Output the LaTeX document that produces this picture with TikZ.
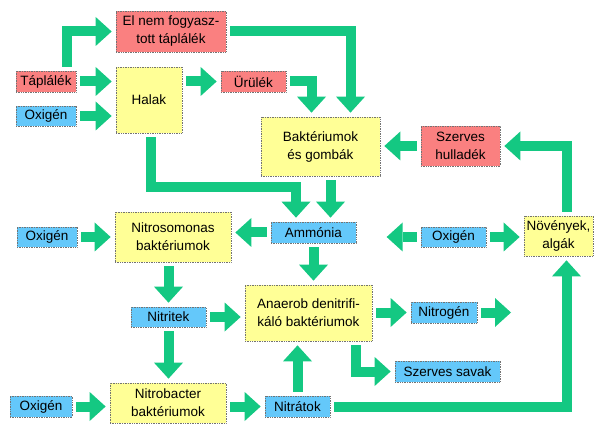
\documentclass[tikz,border=0pt]{standalone}
\usepackage{fontspec}
\setmainfont{Liberation Sans}
\usetikzlibrary{arrows.meta}
\definecolor{zold}{RGB}{20,200,130}
\definecolor{sarga}{RGB}{255,255,150}
\definecolor{piros}{RGB}{250,128,128}
\definecolor{kek}{RGB}{100,200,250}
\begin{document}
\begin{tikzpicture}[x=1pt,y=-1pt,font=\fontsize{13.5}{18}\selectfont,line join=miter,
  doboz/.style={draw=black!55,densely dotted,line width=0.7pt,inner sep=0pt,align=center},
  ybox/.style={doboz,fill=sarga},
  rbox/.style={doboz,fill=piros},
  bbox/.style={doboz,fill=kek},
  flow/.style={draw=zold,line width=10pt,-{Triangle[width=29pt,length=16pt,line width=0pt]},
    shorten <=4pt,shorten >=4pt}]
\useasboundingbox (0,0) rectangle (595,425);
% dobozok
\node[rbox,minimum width=110,minimum height=41] (elnem) at (171,31.5) {El nem fogyasz-\\tott táplálék};
\node[rbox,minimum width=60,minimum height=21] (taplalek) at (46,81.5) {Táplálék};
\node[bbox,minimum width=60,minimum height=20] (oxigen1) at (46,116) {Oxigén};
\node[ybox,minimum width=66,minimum height=66] (halak) at (149,100) {Halak};
\node[rbox,minimum width=65,minimum height=21] (urulek) at (253.5,81.5) {Ürülék};
\node[ybox,minimum width=119,minimum height=59] (bakt) at (320.5,146.5) {Baktériumok\\és gombák};
\node[rbox,minimum width=79,minimum height=40] (szhull) at (460.5,146) {Szerves\\hulladék};
\node[bbox,minimum width=85,minimum height=21] (ammonia) at (313.5,232.5) {Ammónia};
\node[bbox,minimum width=65,minimum height=20] (oxigen2) at (453.5,237) {Oxigén};
\node[ybox,minimum width=69,minimum height=40] (novenyek) at (558.5,236) {Növények,\\algák};
\node[ybox,minimum width=116,minimum height=50] (nitroso) at (173,237) {Nitrosomonas\\baktériumok};
\node[bbox,minimum width=60,minimum height=20] (oxigen3) at (47,237) {Oxigén};
\node[bbox,minimum width=75,minimum height=20] (nitritek) at (168.5,317) {Nitritek};
\node[ybox,minimum width=127,minimum height=56] (anaerob) at (308.5,313) {Anaerob denitrifi-\\káló baktériumok};
\node[bbox,minimum width=66,minimum height=21] (nitrogen) at (444,312.5) {Nitrogén};
\node[bbox,minimum width=105,minimum height=21] (szsavak) at (447.5,371.5) {Szerves savak};
\node[bbox,minimum width=65,minimum height=21] (nitratok) at (297.5,406.5) {Nitrátok};
\node[ybox,minimum width=116,minimum height=40] (nitrobac) at (168,403) {Nitrobacter\\baktériumok};
\node[bbox,minimum width=62,minimum height=21] (oxigen4) at (41,406.5) {Oxigén};
\coordinate (nout) at (515,312.5);
\coordinate (hsarok) at (296,187);
% nyilak
\draw[flow] ([xshift=21]taplalek.north) |- (elnem.west);
\draw[flow] (taplalek.east) -- (taplalek.east -| halak.west);
\draw[flow] (oxigen1.east) -- (oxigen1.east -| halak.west);
\draw[flow] (halak.east |- urulek.west) -- (urulek.west);
\draw[flow] (elnem.east) -| ([xshift=30]bakt.north);
\draw[flow] (urulek.east) -| ([xshift=-9]bakt.north);
\draw[flow] ([xshift=2]halak.south) |- (hsarok) -- (hsarok |- ammonia.north);
\draw[flow] ([xshift=10]bakt.south) -- ([xshift=10]bakt.south |- ammonia.north);
\draw[flow] (szhull.west) -- (szhull.west -| bakt.east);
\draw[flow] ([xshift=8]novenyek.north) |- (szhull.east);
\draw[flow] (ammonia.west) -- (ammonia.west -| nitroso.east);
\draw[flow] (oxigen2.west) -- ++(-38,0);
\draw[flow] (oxigen2.east) -- (oxigen2.east -| novenyek.west);
\draw[flow] (oxigen3.east) -- (oxigen3.east -| nitroso.west);
\draw[flow] (ammonia.south) -- (ammonia.south |- anaerob.north);
\draw[flow] (nitroso.south -| nitritek.north) -- (nitritek.north);
\draw[flow] (nitritek.east) -- (nitritek.east -| anaerob.west);
\draw[flow] (nitritek.south) -- (nitritek.south |- nitrobac.north);
\draw[flow] (anaerob.east |- nitrogen.west) -- (nitrogen.west);
\draw[flow] (nitrogen.east) -- (nout);
\draw[flow] ([xshift=47.5]anaerob.south) |- (szsavak.west);
\draw[flow] (nitratok.north) -- (nitratok.north |- anaerob.south);
\draw[flow] (oxigen4.east) -- (oxigen4.east -| nitrobac.west);
\draw[flow] (nitratok.west -| nitrobac.east) -- (nitratok.west);
\draw[flow] (nitratok.east) -| ([xshift=8]novenyek.south);
\end{tikzpicture}
\end{document}
